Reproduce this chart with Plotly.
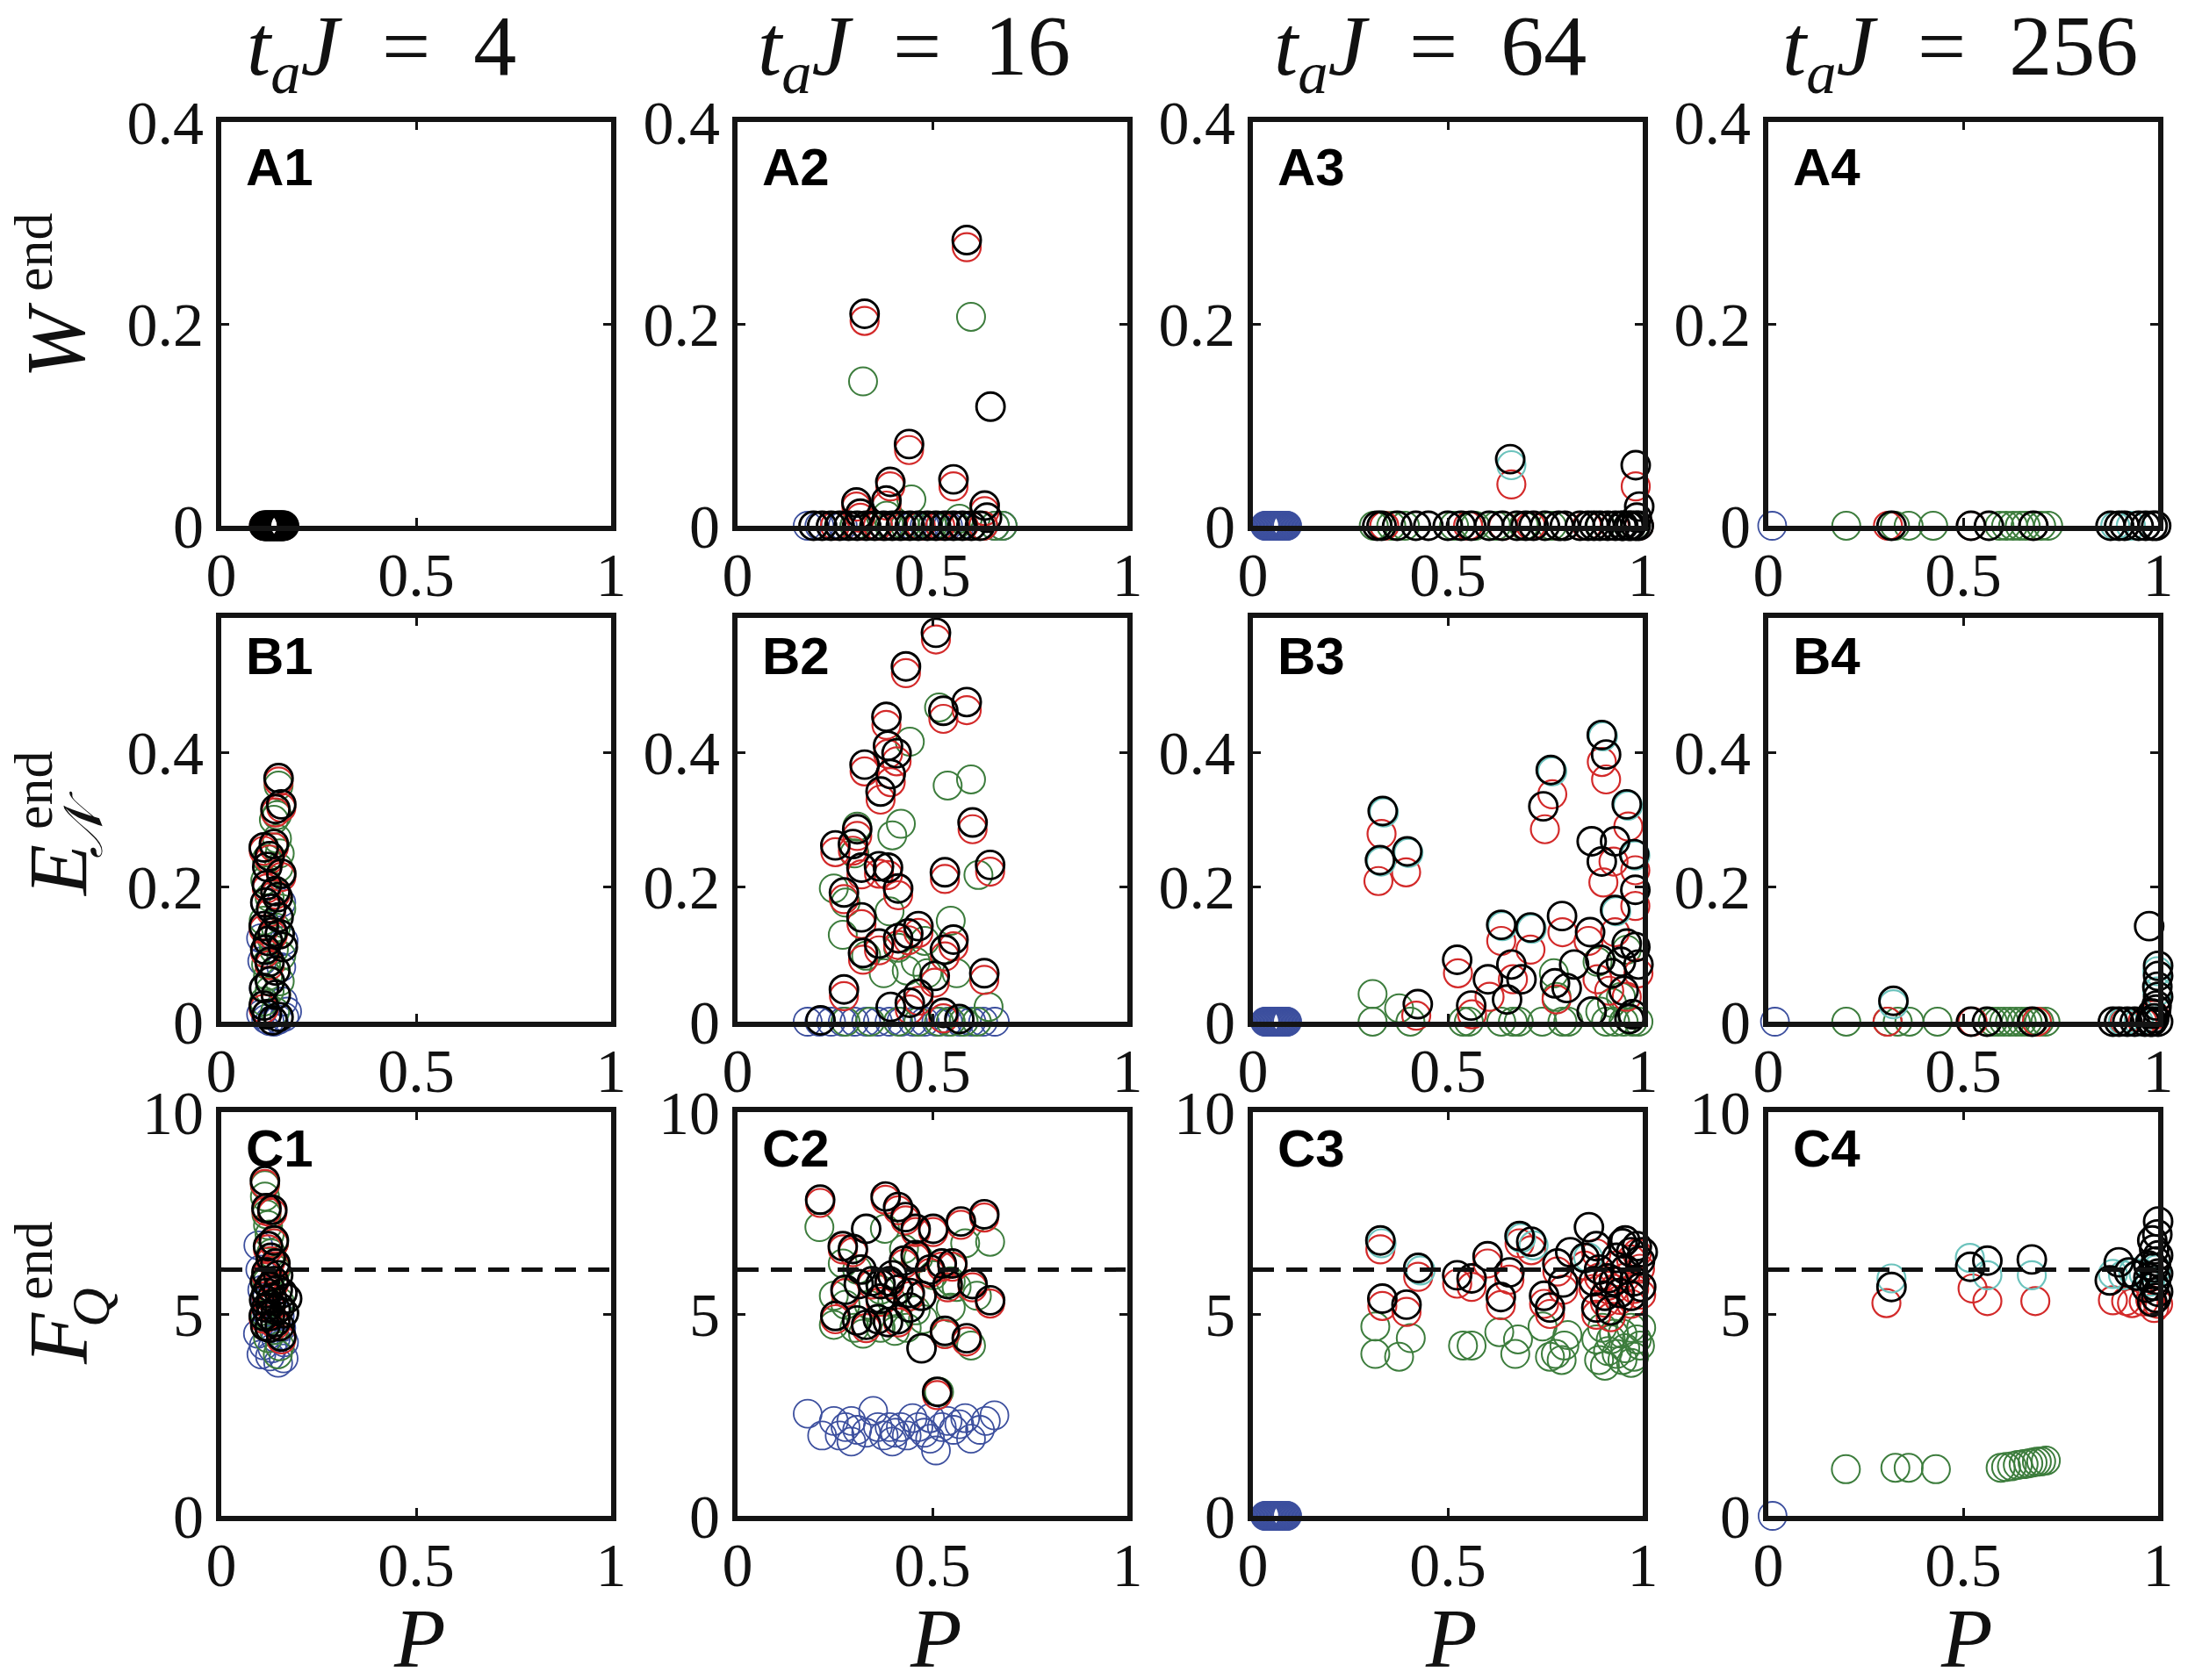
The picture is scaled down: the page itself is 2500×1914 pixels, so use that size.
import plotly.graph_objects as go

FIG_W, FIG_H = 2500, 1914

# ---------------- labels / ticks ----------------
col_tJ = ["4", "16", "64", "256"]
row_keys = ["A", "B", "C"]
x_tickvals = [0, 0.5, 1]
x_ticktext = ["0", "0.5", "1"]
yticks_A = [0, 0.2, 0.4]
yticks_B = [0, 0.2, 0.4]
yticks_C = [0, 5, 10]
yticktext_A = ["0", "0.2", "0.4"]
yticktext_B = ["0", "0.2", "0.4"]
yticktext_C = ["0", "5", "10"]
yrange_A = [0, 0.4]
yrange_B = [0, 0.6]
yrange_C = [0, 10]
FQ_reference = 6.1

# ---------------- data (P, value) ----------------
# column 1: t_a J = 4
A1_blue = [(0.11, 0), (0.12, 0), (0.13, 0), (0.14, 0), (0.15, 0), (0.16, 0)]
A1_green = [(0.11, 0), (0.12, 0), (0.13, 0), (0.14, 0), (0.15, 0), (0.16, 0)]
A1_red = [(0.11, 0), (0.12, 0), (0.13, 0), (0.14, 0), (0.15, 0), (0.16, 0)]
A1_cyan = []
A1_black = [(0.110, 0), (0.113, 0), (0.116, 0), (0.119, 0), (0.122, 0), (0.125, 0),
            (0.128, 0), (0.131, 0), (0.134, 0), (0.137, 0), (0.140, 0), (0.143, 0),
            (0.146, 0), (0.149, 0), (0.152, 0), (0.155, 0), (0.158, 0), (0.161, 0)]

B1_blue = [(0.162, 0.007), (0.147, 0.003), (0.124, 0.001), (0.102, 0.011), (0.169, 0.015),
           (0.154, 0.177), (0.102, 0.124), (0.154, 0.081), (0.109, 0.050), (0.135, 0.000),
           (0.115, 0.004), (0.158, 0.030), (0.160, 0.120), (0.105, 0.090)]
B1_green = [(0.147, 0.351), (0.143, 0.307), (0.143, 0.272), (0.117, 0.242), (0.147, 0.229),
            (0.124, 0.185), (0.154, 0.168), (0.109, 0.150), (0.135, 0.107), (0.120, 0.068),
            (0.154, 0.098), (0.124, 0.046), (0.135, 0.300), (0.150, 0.250), (0.113, 0.210),
            (0.140, 0.140), (0.128, 0.125), (0.115, 0.085), (0.150, 0.060), (0.110, 0.030),
            (0.138, 0.015)]
B1_red = [(0.147, 0.357), (0.154, 0.318), (0.139, 0.311), (0.109, 0.254), (0.135, 0.259),
          (0.124, 0.241), (0.154, 0.215), (0.117, 0.198), (0.139, 0.189), (0.128, 0.163),
          (0.109, 0.137), (0.132, 0.128), (0.113, 0.102), (0.124, 0.084), (0.109, 0.019)]
B1_cyan = []
B1_black = [(0.147, 0.362), (0.154, 0.323), (0.139, 0.316), (0.109, 0.259), (0.135, 0.264),
            (0.124, 0.246), (0.154, 0.220), (0.117, 0.203), (0.139, 0.194), (0.113, 0.177),
            (0.128, 0.168), (0.147, 0.155), (0.109, 0.142), (0.132, 0.133), (0.158, 0.111),
            (0.113, 0.107), (0.139, 0.076), (0.124, 0.089), (0.109, 0.024), (0.117, 0.011),
            (0.132, 0.002), (0.147, 0.007), (0.120, 0.120), (0.145, 0.185), (0.118, 0.230),
            (0.150, 0.130), (0.125, 0.060), (0.110, 0.050), (0.140, 0.040)]

C1_blue = [(0.109, 4.22), (0.146, 3.79), (0.131, 4.15), (0.161, 4.30), (0.094, 4.51),
           (0.154, 4.66), (0.100, 6.10), (0.105, 5.60), (0.118, 5.00), (0.140, 4.40),
           (0.125, 3.95), (0.160, 3.90), (0.103, 4.00), (0.150, 4.95), (0.095, 6.70),
           (0.112, 5.30)]
C1_green = [(0.112, 8.19), (0.112, 7.91), (0.116, 7.47), (0.124, 6.97), (0.135, 6.75),
            (0.120, 7.20), (0.128, 6.50), (0.140, 6.10), (0.118, 5.80), (0.150, 5.30),
            (0.112, 5.00), (0.135, 4.60), (0.150, 4.20), (0.120, 4.40), (0.145, 4.00)]
C1_red = [(0.112, 8.22), (0.116, 7.55), (0.131, 7.50), (0.135, 6.75), (0.120, 6.60),
          (0.127, 6.31), (0.139, 6.18), (0.116, 5.95), (0.135, 5.74), (0.116, 5.45),
          (0.127, 5.15), (0.109, 4.88), (0.139, 4.73), (0.154, 4.37)]
C1_cyan = []
C1_black = [(0.112, 8.30), (0.116, 7.62), (0.131, 7.58), (0.135, 6.82), (0.120, 6.68),
            (0.127, 6.39), (0.139, 6.25), (0.116, 6.03), (0.135, 5.81), (0.157, 5.52),
            (0.116, 5.52), (0.127, 5.23), (0.161, 5.02), (0.109, 4.95), (0.139, 4.80),
            (0.124, 4.66), (0.154, 4.44), (0.112, 5.81), (0.146, 5.96), (0.124, 5.67),
            (0.150, 5.16), (0.116, 5.16), (0.169, 5.38), (0.130, 5.40), (0.145, 5.60),
            (0.110, 5.35), (0.125, 4.95), (0.140, 5.10), (0.150, 4.70), (0.113, 4.70)]

# column 2: t_a J = 16
A2_blue = [(0.18, 0), (0.21, 0), (0.24, 0), (0.27, 0), (0.30, 0), (0.33, 0), (0.36, 0),
           (0.39, 0), (0.42, 0), (0.45, 0), (0.48, 0), (0.51, 0), (0.54, 0), (0.57, 0),
           (0.60, 0), (0.63, 0), (0.66, 0), (0.68, 0)]
A2_green = [(0.599, 0.207), (0.322, 0.143), (0.446, 0.026), (0.569, 0.007), (0.383, 0.010),
            (0.26, 0), (0.30, 0), (0.35, 0), (0.39, 0), (0.43, 0), (0.46, 0), (0.50, 0),
            (0.53, 0), (0.56, 0), (0.60, 0), (0.63, 0), (0.66, 0), (0.68, 0)]
A2_red = [(0.588, 0.276), (0.326, 0.203), (0.440, 0.075), (0.392, 0.039), (0.554, 0.039),
          (0.305, 0.019), (0.634, 0.0145), (0.315, 0.008), (0.382, 0.020),
          (0.25, 0), (0.31, 0), (0.36, 0), (0.42, 0), (0.47, 0), (0.52, 0), (0.58, 0), (0.63, 0)]
A2_cyan = []
A2_black = [(0.588, 0.283), (0.326, 0.210), (0.649, 0.118), (0.440, 0.081), (0.392, 0.0435),
            (0.554, 0.046), (0.305, 0.023), (0.382, 0.025), (0.634, 0.020), (0.315, 0.012),
            (0.640, 0.008),
            (0.195, 0), (0.217, 0), (0.240, 0), (0.262, 0), (0.285, 0), (0.307, 0), (0.330, 0),
            (0.352, 0), (0.375, 0), (0.397, 0), (0.419, 0), (0.442, 0), (0.464, 0), (0.487, 0),
            (0.509, 0), (0.532, 0), (0.554, 0), (0.577, 0), (0.600, 0), (0.622, 0)]

B2_blue = [(0.18, 0), (0.21, 0), (0.24, 0), (0.27, 0), (0.30, 0), (0.33, 0), (0.36, 0),
           (0.39, 0), (0.42, 0), (0.45, 0), (0.48, 0), (0.51, 0), (0.54, 0), (0.57, 0),
           (0.60, 0), (0.63, 0), (0.66, 0)]
B2_green = [(0.517, 0.467), (0.442, 0.416), (0.539, 0.351), (0.599, 0.360), (0.307, 0.290),
            (0.419, 0.294), (0.397, 0.277), (0.618, 0.218), (0.247, 0.198), (0.277, 0.177),
            (0.390, 0.164), (0.547, 0.150), (0.270, 0.129), (0.330, 0.098), (0.375, 0.072),
            (0.434, 0.076), (0.487, 0.072), (0.562, 0.072), (0.644, 0.022), (0.457, 0.089),
            (0.412, 0.110), (0.480, 0.120), (0.300, 0.250), (0.277, 0.0), (0.412, 0.0),
            (0.464, 0.0), (0.517, 0.0), (0.547, 0.0), (0.614, 0.0), (0.340, 0.0), (0.580, 0.0)]
B2_red = [(0.509, 0.568), (0.432, 0.518), (0.528, 0.450), (0.588, 0.463), (0.382, 0.441),
          (0.386, 0.398), (0.408, 0.387), (0.326, 0.372), (0.393, 0.356), (0.367, 0.330),
          (0.603, 0.286), (0.307, 0.276), (0.251, 0.252), (0.296, 0.254), (0.318, 0.219),
          (0.363, 0.220), (0.386, 0.218), (0.532, 0.212), (0.648, 0.223), (0.273, 0.182),
          (0.412, 0.188), (0.318, 0.145), (0.464, 0.132), (0.438, 0.121), (0.412, 0.114),
          (0.554, 0.112), (0.363, 0.106), (0.322, 0.092), (0.532, 0.097), (0.633, 0.062),
          (0.506, 0.058), (0.273, 0.038), (0.442, 0.018), (0.464, 0.031), (0.528, 0.005)]
B2_cyan = []
B2_black = [(0.509, 0.578), (0.432, 0.528), (0.528, 0.462), (0.588, 0.475), (0.382, 0.453),
            (0.386, 0.410), (0.408, 0.399), (0.326, 0.382), (0.393, 0.368), (0.367, 0.342),
            (0.603, 0.296), (0.307, 0.286), (0.251, 0.262), (0.296, 0.264), (0.318, 0.229),
            (0.363, 0.231), (0.386, 0.229), (0.532, 0.222), (0.648, 0.233), (0.273, 0.192),
            (0.412, 0.198), (0.318, 0.155), (0.464, 0.142), (0.438, 0.131), (0.412, 0.124),
            (0.554, 0.122), (0.363, 0.116), (0.322, 0.102), (0.532, 0.107), (0.633, 0.072),
            (0.506, 0.068), (0.273, 0.048), (0.393, 0.022), (0.442, 0.028), (0.464, 0.041),
            (0.528, 0.013), (0.569, 0.004), (0.213, 0.002)]

C2_blue = [(0.180, 2.53), (0.217, 1.99), (0.247, 2.35), (0.262, 1.99), (0.277, 2.20),
           (0.292, 1.84), (0.307, 2.13), (0.330, 2.06), (0.348, 2.60), (0.360, 2.20),
           (0.375, 1.99), (0.390, 2.20), (0.404, 2.06), (0.419, 2.20), (0.434, 1.99),
           (0.449, 2.42), (0.464, 2.20), (0.479, 2.06), (0.494, 2.42), (0.509, 1.62),
           (0.524, 2.20), (0.539, 2.35), (0.554, 2.13), (0.569, 2.27), (0.584, 2.42),
           (0.599, 1.91), (0.622, 2.13), (0.637, 2.35), (0.659, 2.49), (0.292, 2.35),
           (0.397, 1.84), (0.494, 1.91)]
C2_green = [(0.210, 7.15), (0.378, 7.11), (0.648, 6.79), (0.584, 6.75), (0.270, 6.25),
            (0.307, 6.10), (0.427, 6.61), (0.464, 6.39), (0.502, 5.96), (0.547, 5.81),
            (0.614, 5.45), (0.562, 5.67), (0.547, 5.16), (0.247, 5.45), (0.277, 5.23),
            (0.247, 4.73), (0.300, 4.66), (0.322, 4.51), (0.367, 4.66), (0.404, 4.58),
            (0.434, 4.66), (0.457, 5.09), (0.476, 4.87), (0.532, 4.51), (0.599, 4.22),
            (0.517, 3.07), (0.397, 5.31), (0.367, 5.60), (0.337, 5.23)]
C2_red = [(0.212, 7.75), (0.380, 7.83), (0.412, 7.57), (0.431, 7.32), (0.457, 7.03),
          (0.502, 7.03), (0.573, 7.21), (0.633, 7.39), (0.270, 6.60), (0.296, 6.53),
          (0.427, 6.24), (0.457, 6.38), (0.494, 6.02), (0.524, 6.17), (0.551, 6.17),
          (0.277, 5.52), (0.345, 5.73), (0.390, 5.73), (0.442, 5.44), (0.539, 5.66),
          (0.603, 5.66), (0.648, 5.26), (0.251, 4.87), (0.330, 4.65), (0.412, 4.79),
          (0.532, 4.50), (0.588, 4.32), (0.512, 2.99), (0.367, 5.30)]
C2_cyan = []
C2_black = [(0.212, 7.83), (0.380, 7.91), (0.412, 7.65), (0.431, 7.40), (0.330, 7.11),
            (0.457, 7.11), (0.502, 7.11), (0.573, 7.29), (0.633, 7.47), (0.270, 6.68),
            (0.296, 6.61), (0.318, 6.10), (0.427, 6.32), (0.457, 6.46), (0.494, 6.10),
            (0.524, 6.25), (0.551, 6.25), (0.277, 5.60), (0.311, 5.74), (0.345, 5.81),
            (0.367, 5.74), (0.390, 5.81), (0.412, 5.60), (0.442, 5.52), (0.472, 5.45),
            (0.539, 5.74), (0.603, 5.74), (0.648, 5.34), (0.251, 4.95), (0.307, 4.84),
            (0.330, 4.73), (0.360, 4.87), (0.386, 4.80), (0.412, 4.87), (0.442, 5.16),
            (0.472, 4.15), (0.532, 4.58), (0.588, 4.40), (0.512, 3.07), (0.367, 5.38),
            (0.397, 5.96)]

# column 3: t_a J = 64
A3_blue = [(0.031, 0), (0.034, 0), (0.037, 0), (0.040, 0), (0.043, 0), (0.046, 0), (0.049, 0),
           (0.052, 0), (0.055, 0), (0.058, 0), (0.061, 0), (0.064, 0), (0.067, 0), (0.070, 0),
           (0.073, 0), (0.076, 0), (0.079, 0), (0.082, 0), (0.085, 0), (0.088, 0)]
A3_green = [(0.310, 0), (0.355, 0), (0.390, 0), (0.516, 0), (0.570, 0), (0.624, 0), (0.695, 0),
            (0.767, 0), (0.839, 0), (0.892, 0), (0.964, 0), (0.980, 0)]
A3_red = [(0.663, 0.041), (0.982, 0.039), (0.337, 0), (0.552, 0), (0.642, 0), (0.713, 0),
          (0.785, 0), (0.857, 0), (0.928, 0), (0.990, 0)]
A3_cyan = [(0.663, 0.060)]
A3_black = [(0.660, 0.066), (0.982, 0.060), (0.991, 0.019), (0.985, 0.008),
            (0.319, 0), (0.330, 0), (0.370, 0), (0.418, 0), (0.450, 0), (0.500, 0), (0.534, 0),
            (0.560, 0), (0.606, 0), (0.640, 0), (0.677, 0), (0.700, 0), (0.720, 0), (0.749, 0),
            (0.785, 0), (0.800, 0), (0.839, 0), (0.860, 0), (0.875, 0), (0.890, 0), (0.910, 0),
            (0.930, 0), (0.946, 0), (0.950, 0), (0.964, 0), (0.970, 0), (0.982, 0), (0.990, 0)]

B3_blue = [(0.031, 0), (0.034, 0), (0.037, 0), (0.040, 0), (0.043, 0), (0.046, 0), (0.049, 0),
           (0.052, 0), (0.055, 0), (0.058, 0), (0.061, 0), (0.064, 0), (0.067, 0), (0.070, 0),
           (0.073, 0), (0.076, 0), (0.079, 0), (0.082, 0), (0.085, 0), (0.088, 0)]
B3_green = [(0.307, 0.041), (0.307, 0), (0.375, 0.020), (0.404, 0), (0.539, 0), (0.554, 0),
            (0.637, 0), (0.667, 0), (0.682, 0), (0.742, 0), (0.794, 0), (0.809, 0),
            (0.772, 0.072), (0.779, 0.037), (0.891, 0.015), (0.906, 0), (0.929, 0), (0.951, 0),
            (0.974, 0), (0.989, 0), (0.921, 0.028), (0.944, 0.037), (0.959, 0.107),
            (0.884, 0.089)]
B3_red = [(0.330, 0.279), (0.322, 0.209), (0.393, 0.222), (0.419, 0.009), (0.526, 0.072),
          (0.562, 0.011), (0.637, 0.120), (0.607, 0.037), (0.667, 0.063), (0.712, 0.107),
          (0.794, 0.133), (0.768, 0.338), (0.749, 0.286), (0.779, 0.033), (0.906, 0.360),
          (0.895, 0.386), (0.963, 0.290), (0.899, 0.207), (0.925, 0.238), (0.981, 0.172),
          (0.981, 0.225), (0.884, 0.063), (0.929, 0.133), (0.989, 0.072), (0.959, 0.037),
          (0.914, 0.046), (0.861, 0.120)]
B3_cyan = [(0.336, 0.311), (0.768, 0.372), (0.898, 0.424), (0.962, 0.321), (0.981, 0.247),
           (0.640, 0.142), (0.715, 0.138), (0.932, 0.164), (0.329, 0.238), (0.399, 0.251)]
B3_black = [(0.333, 0.313), (0.326, 0.240), (0.396, 0.253), (0.423, 0.026), (0.524, 0.092),
            (0.560, 0.024), (0.637, 0.144), (0.603, 0.063), (0.663, 0.085), (0.689, 0.063),
            (0.652, 0.033), (0.712, 0.140), (0.793, 0.157), (0.764, 0.374), (0.745, 0.320),
            (0.775, 0.057), (0.824, 0.085), (0.805, 0.050), (0.895, 0.426), (0.906, 0.397),
            (0.959, 0.323), (0.869, 0.268), (0.895, 0.238), (0.929, 0.268), (0.978, 0.249),
            (0.981, 0.196), (0.929, 0.166), (0.865, 0.133), (0.891, 0.092), (0.959, 0.116),
            (0.981, 0.111), (0.944, 0.089), (0.989, 0.085), (0.921, 0.072), (0.951, 0.046),
            (0.869, 0.015), (0.966, 0.004), (0.974, 0.011)]

C3_blue = [(0.031, 0), (0.034, 0), (0.037, 0), (0.040, 0), (0.043, 0), (0.046, 0), (0.049, 0),
           (0.052, 0), (0.055, 0), (0.058, 0), (0.061, 0), (0.064, 0), (0.067, 0), (0.070, 0),
           (0.073, 0), (0.076, 0), (0.079, 0), (0.082, 0), (0.085, 0), (0.088, 0)]
C3_green = [(0.314, 4.69), (0.314, 4.01), (0.405, 4.40), (0.375, 3.94), (0.539, 4.22),
            (0.561, 4.22), (0.632, 4.55), (0.680, 4.37), (0.673, 4.01), (0.743, 4.69),
            (0.807, 4.48), (0.762, 3.94), (0.777, 4.01), (0.799, 4.22), (0.792, 3.86),
            (0.896, 4.66), (0.918, 4.37), (0.948, 4.51), (0.970, 4.66), (0.985, 4.37),
            (0.888, 3.86), (0.911, 4.08), (0.933, 4.01), (0.955, 4.15), (0.978, 3.94),
            (0.993, 4.22), (0.903, 3.72), (0.948, 3.86), (0.881, 4.37), (0.926, 4.51),
            (0.970, 3.79), (0.996, 4.66)]
C3_red = [(0.327, 6.60), (0.424, 5.92), (0.332, 5.20), (0.394, 5.05), (0.524, 5.75),
          (0.561, 5.67), (0.602, 6.25), (0.636, 5.22), (0.658, 5.85), (0.684, 6.75),
          (0.714, 6.58), (0.747, 5.25), (0.762, 5.00), (0.781, 6.05), (0.796, 5.60),
          (0.851, 6.20), (0.881, 6.50), (0.874, 5.62), (0.903, 5.28), (0.918, 4.92),
          (0.933, 6.20), (0.955, 5.90), (0.970, 6.35), (0.978, 5.62), (0.985, 6.50),
          (0.993, 6.12), (0.996, 5.48), (0.888, 5.90), (0.926, 5.62), (0.941, 5.35),
          (0.911, 5.70), (0.970, 5.25), (0.881, 4.98)]
C3_cyan = [(0.330, 6.75), (0.430, 6.08), (0.688, 6.88), (0.720, 6.70), (0.860, 6.40)]
C3_black = [(0.327, 6.82), (0.424, 6.14), (0.332, 5.38), (0.394, 5.23), (0.524, 5.96),
            (0.561, 5.88), (0.602, 6.43), (0.636, 5.42), (0.658, 6.03), (0.684, 6.93),
            (0.714, 6.79), (0.747, 5.45), (0.762, 5.16), (0.781, 6.25), (0.796, 5.78),
            (0.814, 6.53), (0.862, 7.15), (0.851, 6.39), (0.881, 6.68), (0.874, 5.81),
            (0.903, 5.45), (0.918, 5.09), (0.933, 6.39), (0.948, 6.75), (0.955, 6.10),
            (0.970, 6.53), (0.978, 5.81), (0.985, 6.68), (0.993, 6.32), (0.996, 5.67),
            (0.888, 6.10), (0.926, 5.81), (0.941, 5.52), (0.911, 5.88), (0.970, 5.45),
            (0.881, 5.16), (0.955, 6.82), (1.000, 6.53)]

# column 4: t_a J = 256
A4_blue = [(0.010, 0)]
A4_green = [(0.200, 0), (0.325, 0), (0.360, 0), (0.423, 0), (0.593, 0), (0.610, 0),
            (0.628, 0), (0.645, 0), (0.660, 0), (0.680, 0), (0.700, 0), (0.718, 0)]
A4_red = [(0.307, 0), (0.520, 0), (0.680, 0), (0.914, 0)]
A4_cyan = [(0.890, 0), (0.930, 0)]
A4_black = [(0.316, 0), (0.520, 0), (0.566, 0), (0.680, 0), (0.878, 0), (0.900, 0),
            (0.914, 0), (0.950, 0), (0.968, 0), (0.986, 0), (0.995, 0)]

B4_blue = [(0.017, 0)]
B4_green = [(0.200, 0), (0.306, 0), (0.332, 0), (0.362, 0), (0.434, 0), (0.576, 0),
            (0.590, 0), (0.605, 0), (0.620, 0), (0.635, 0), (0.650, 0), (0.665, 0),
            (0.680, 0), (0.695, 0), (0.711, 0)]
B4_red = [(0.306, 0), (0.524, 0), (0.689, 0), (0.914, 0), (0.960, 0), (0.990, 0.010)]
B4_cyan = [(0.321, 0.026), (0.998, 0.075), (0.998, 0.045), (0.910, 0), (0.950, 0)]
B4_black = [(0.321, 0.031), (0.977, 0.142), (1.000, 0.083), (1.000, 0.068), (0.998, 0.052),
            (1.000, 0.037), (0.996, 0.024), (0.985, 0.012), (0.990, 0.005), (1.000, 0.000),
            (0.995, 0.018), (0.980, 0.000), (0.520, 0), (0.561, 0), (0.677, 0), (0.884, 0),
            (0.900, 0), (0.921, 0), (0.940, 0), (0.966, 0), (0.985, 0)]

C4_blue = [(0.011, 0)]
C4_green = [(0.199, 1.155), (0.326, 1.19), (0.360, 1.19), (0.430, 1.155),
            (0.596, 1.19), (0.610, 1.21), (0.625, 1.23), (0.640, 1.26), (0.655, 1.28),
            (0.667, 1.30), (0.678, 1.32), (0.689, 1.34), (0.700, 1.35), (0.712, 1.37)]
C4_red = [(0.303, 5.27), (0.524, 5.63), (0.562, 5.32), (0.685, 5.32), (0.884, 5.34),
          (0.918, 5.32), (0.933, 5.27), (0.963, 5.31), (0.990, 5.15), (1.000, 5.25),
          (0.980, 5.35), (0.995, 5.40)]
C4_cyan = [(0.316, 5.88), (0.517, 6.39), (0.562, 5.96), (0.676, 5.96), (0.884, 5.99),
           (0.910, 5.96), (0.936, 6.03), (0.963, 5.99), (0.995, 6.10), (0.980, 5.80)]
C4_black = [(0.316, 5.67), (0.518, 6.17), (0.562, 6.32), (0.676, 6.35), (0.899, 6.28),
            (0.876, 5.83), (0.925, 6.03), (0.945, 5.95), (1.000, 7.29), (0.985, 6.82),
            (0.998, 6.97), (0.990, 6.60), (1.000, 6.45), (0.995, 6.30), (0.990, 6.15),
            (1.000, 6.00), (0.995, 5.85), (0.990, 5.70), (1.000, 5.55), (0.995, 5.40),
            (0.985, 5.30), (0.975, 5.90), (0.970, 5.65), (0.975, 6.20)]

# ---------------- styling ----------------
series_order = ["blue", "green", "red", "cyan", "black"]
series_color = {"blue": "#3c4f9e", "green": "#3d7d3d", "red": "#d32a2a",
                "cyan": "#6cc3bd", "black": "#000000"}
series_lw = {"blue": 1.8, "green": 2.0, "red": 2.2, "cyan": 2.2, "black": 2.9}
MARKER_SIZE = 32

data_table = {
    ("A", 1): [A1_blue, A1_green, A1_red, A1_cyan, A1_black],
    ("A", 2): [A2_blue, A2_green, A2_red, A2_cyan, A2_black],
    ("A", 3): [A3_blue, A3_green, A3_red, A3_cyan, A3_black],
    ("A", 4): [A4_blue, A4_green, A4_red, A4_cyan, A4_black],
    ("B", 1): [B1_blue, B1_green, B1_red, B1_cyan, B1_black],
    ("B", 2): [B2_blue, B2_green, B2_red, B2_cyan, B2_black],
    ("B", 3): [B3_blue, B3_green, B3_red, B3_cyan, B3_black],
    ("B", 4): [B4_blue, B4_green, B4_red, B4_cyan, B4_black],
    ("C", 1): [C1_blue, C1_green, C1_red, C1_cyan, C1_black],
    ("C", 2): [C2_blue, C2_green, C2_red, C2_cyan, C2_black],
    ("C", 3): [C3_blue, C3_green, C3_red, C3_cyan, C3_black],
    ("C", 4): [C4_blue, C4_green, C4_red, C4_cyan, C4_black],
}
row_yticks = {"A": (yticks_A, yticktext_A, yrange_A),
              "B": (yticks_B, yticktext_B, yrange_B),
              "C": (yticks_C, yticktext_C, yrange_C)}

# panel geometry in pixels
COL_LEFT = [252, 840, 1427, 2014]
PANEL_W = 444
ROW_TOP = [139, 704, 1267]
PANEL_H = 460
LABEL_DY = {"A": 52, "B": 43, "C": 41}

def px_x(p):
    return p / FIG_W

def px_y(p):
    return 1 - p / FIG_H

SERIF = "Liberation Serif, Times New Roman, serif"
SANS = "Liberation Sans, Arial, sans-serif"

fig = go.Figure()
layout_axes = {}
annotations = []
shapes = []

for r, rk in enumerate(row_keys):
    for c in range(4):
        idx = r * 4 + c + 1
        sx = "" if idx == 1 else str(idx)
        xref, yref = "x" + sx, "y" + sx
        tv, tt, yr = row_yticks[rk]
        x0 = COL_LEFT[c]
        y0 = ROW_TOP[r]
        layout_axes["xaxis" + sx] = dict(
            domain=[px_x(x0), px_x(x0 + PANEL_W)], anchor=yref, range=[0, 1],
            tickvals=x_tickvals, ticktext=x_ticktext, showline=True, mirror="ticks",
            linewidth=6, linecolor="#141414", ticks="inside", ticklen=9, tickwidth=3,
            tickcolor="#141414", showgrid=False, zeroline=False, ticklabelstandoff=-10,
            automargin=False, fixedrange=True,
            tickfont=dict(family=SERIF, size=70, color="#111"))
        layout_axes["yaxis" + sx] = dict(
            domain=[px_y(y0 + PANEL_H), px_y(y0)], anchor=xref, range=yr,
            tickvals=tv, ticktext=tt, showline=True, mirror="ticks",
            linewidth=6, linecolor="#141414", ticks="inside", ticklen=9, tickwidth=3,
            tickcolor="#141414", showgrid=False, zeroline=False, ticklabelstandoff=0,
            automargin=False, fixedrange=True,
            tickfont=dict(family=SERIF, size=70, color="#111"))
        for name, pts in zip(series_order, data_table[(rk, c + 1)]):
            if not pts:
                continue
            fig.add_trace(go.Scatter(
                x=[p[0] for p in pts], y=[p[1] for p in pts], mode="markers",
                xaxis=xref, yaxis=yref, cliponaxis=False, hoverinfo="skip",
                marker=dict(symbol="circle-open", size=MARKER_SIZE,
                            color=series_color[name],
                            line=dict(width=series_lw[name], color=series_color[name]))))
        annotations.append(dict(
            text="<b>%s%d</b>" % (rk, c + 1), xref="paper", yref="paper",
            x=px_x(x0 + 26), y=px_y(y0 + LABEL_DY[rk]), xanchor="left", yanchor="middle",
            showarrow=False, font=dict(family=SANS, size=60, color="#000")))
        if rk == "C":
            shapes.append(dict(type="line", xref=xref, yref=yref, x0=0, x1=1,
                               y0=FQ_reference, y1=FQ_reference, layer="above",
                               line=dict(color="#111", width=5, dash="24px,14px")))

# column titles
title_cx = [435, 1041, 1629, 2232]
for c in range(4):
    annotations.append(dict(
        text="<i>t</i><sub><i>a</i></sub><i>J</i>\u2002=\u2002" + col_tJ[c],
        xref="paper", yref="paper", x=px_x(title_cx[c]), y=px_y(60),
        xanchor="center", yanchor="middle", showarrow=False,
        font=dict(family=SERIF, size=98, color="#111")))

# x labels
for c in range(4):
    annotations.append(dict(
        text="<i>P</i>", xref="paper", yref="paper",
        x=px_x(COL_LEFT[c] + PANEL_W / 2 + 4), y=px_y(1866),
        xanchor="center", yanchor="middle", showarrow=False,
        font=dict(family=SERIF, size=96, color="#111")))

# y labels (rotated, built from pieces)
ylab_pieces = [
    ("<i>W</i>", 64, 388, 95), ("end", 38, 287, 62),
    ("<i>E</i>", 67, 992, 95), ("end", 38, 900, 62), ("<i>𝒩</i>", 95, 940, 62),
    ("<i>F</i>", 67, 1525, 95), ("end", 38, 1436, 62), ("<i>Q</i>", 103, 1490, 62),
]
for text, px, py, fs in ylab_pieces:
    annotations.append(dict(
        text=text, xref="paper", yref="paper", x=px_x(px), y=px_y(py),
        xanchor="center", yanchor="middle", textangle=-90, showarrow=False,
        font=dict(family=SERIF, size=fs, color="#111")))

fig.update_layout(
    width=FIG_W, height=FIG_H, margin=dict(l=0, r=0, t=0, b=0, pad=0, autoexpand=False),
    paper_bgcolor="white", plot_bgcolor="white", showlegend=False,
    annotations=annotations, shapes=shapes, **layout_axes)

fig.write_html("out.html", config={"displayModeBar": False},
               post_script="document.body.style.margin='0px';"
                           "document.body.style.overflow='hidden';")
